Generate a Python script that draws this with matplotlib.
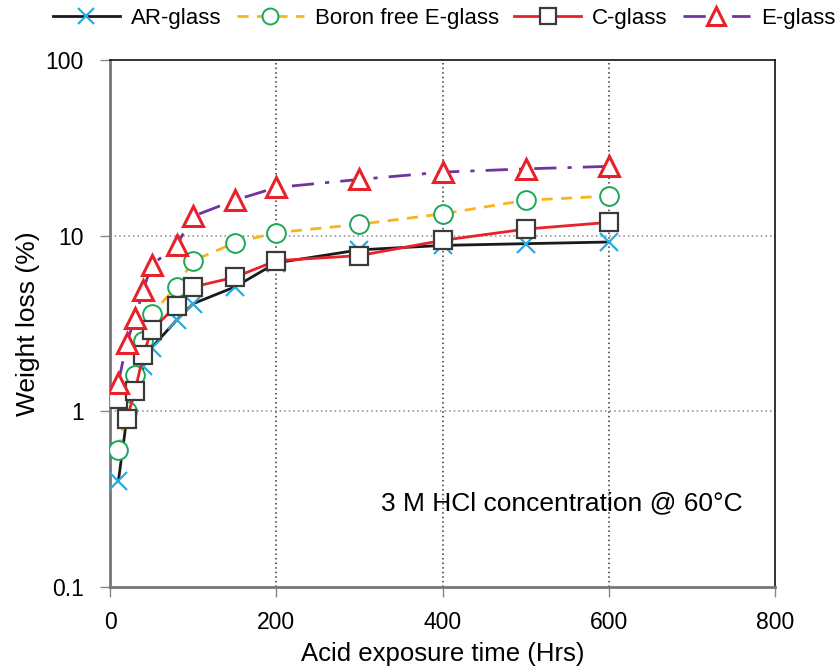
import matplotlib
matplotlib.use("Agg")
import matplotlib.pyplot as plt
from matplotlib.ticker import FixedLocator, NullLocator, FuncFormatter

plt.rcParams['font.family'] = ['Liberation Sans', 'DejaVu Sans']

# acid exposure time (Hrs)
hours = [10, 20, 30, 40, 50, 80, 100, 150, 200, 300, 400, 500, 600]

# weight loss (%)
ar_glass = [0.4, 0.9, 1.3, 1.8, 2.3, 3.3, 4.1, 5.1, 7.0, 8.3, 8.8, 9.0, 9.2]
boron_free = [0.6, 1.0, 1.6, 2.5, 3.6, 5.1, 7.2, 9.1, 10.4, 11.6, 13.3, 15.9, 16.8]
c_glass = [1.18, 0.9, 1.3, 2.1, 2.9, 4.0, 5.1, 5.8, 7.2, 7.7, 9.4, 10.9, 11.9]
e_glass = [1.45, 2.45, 3.4, 4.9, 6.8, 8.8, 12.9, 15.9, 18.8, 20.9, 23.0, 24.0, 24.8]

fig = plt.figure(figsize=(8.38, 6.68), dpi=100)
ax = fig.add_axes([0.1313, 0.1213, 0.7935, 0.7889])

ms = 13.5
lw = 2.0
ax.plot(hours, ar_glass, color='#1a1a1a', lw=lw, marker='x', ms=ms,
        mec='#29abe2', mew=1.6, label='AR-glass', zorder=3)
ax.plot(hours, boron_free, color='#fbb31b', lw=lw, ls=(0, (4, 3)), marker='o', ms=ms,
        mfc='white', mec='#1aa856', mew=1.4, label='Boron free E-glass', zorder=4)
ax.plot(hours, c_glass, color='#e8222a', lw=lw, marker='s', ms=ms,
        mfc='white', mec='#3a3a3a', mew=1.6, label='C-glass', zorder=5)
ax.plot(hours, e_glass, color='#7034a0', lw=lw, ls=(0, (8, 4, 1.5, 4)), marker='^', ms=ms + 1,
        mfc='white', mec='#e8222a', mew=2.2, label='E-glass', zorder=6)

ax.set_yscale('log')
ax.set_xlim(0, 800)
ax.set_ylim(0.1, 100)
ax.xaxis.set_major_locator(FixedLocator([0, 200, 400, 600, 800]))
ax.yaxis.set_major_locator(FixedLocator([0.1, 1, 10, 100]))
ax.yaxis.set_minor_locator(NullLocator())
ax.yaxis.set_major_formatter(FuncFormatter(lambda v, p: '%g' % v))

for x in [200, 400, 600]:
    ax.axvline(x, color='#333333', ls=(0, (1, 2)), lw=1.1, zorder=1)
for y in [1, 10]:
    ax.axhline(y, color='#888888', ls=(0, (1, 2)), lw=1.1, zorder=1)

ax.tick_params(axis='both', direction='out', length=7, width=1, color='#888888',
               labelsize=16.5)
ax.tick_params(axis='x', pad=10)
ax.tick_params(axis='y', pad=12)
for s in ['left', 'bottom']:
    ax.spines[s].set_color('#777777')
    ax.spines[s].set_linewidth(2)
for s in ['top', 'right']:
    ax.spines[s].set_color('#111111')
    ax.spines[s].set_linewidth(1.2)

ax.set_xlabel('Acid exposure time (Hrs)', fontsize=18.5, labelpad=6)
ax.set_ylabel('Weight loss (%)', fontsize=19, labelpad=4)

ax.text(544, 0.30, '3 M HCl concentration @ 60°C', fontsize=19, ha='center', va='center')

fig.legend(loc='center', bbox_to_anchor=(0.53, 0.973), ncol=4, frameon=False,
           fontsize=16, handlelength=3.0, columnspacing=0.7, handletextpad=0.5,
           markerscale=0.85, borderaxespad=0)

fig.savefig('out.png', dpi=100)
